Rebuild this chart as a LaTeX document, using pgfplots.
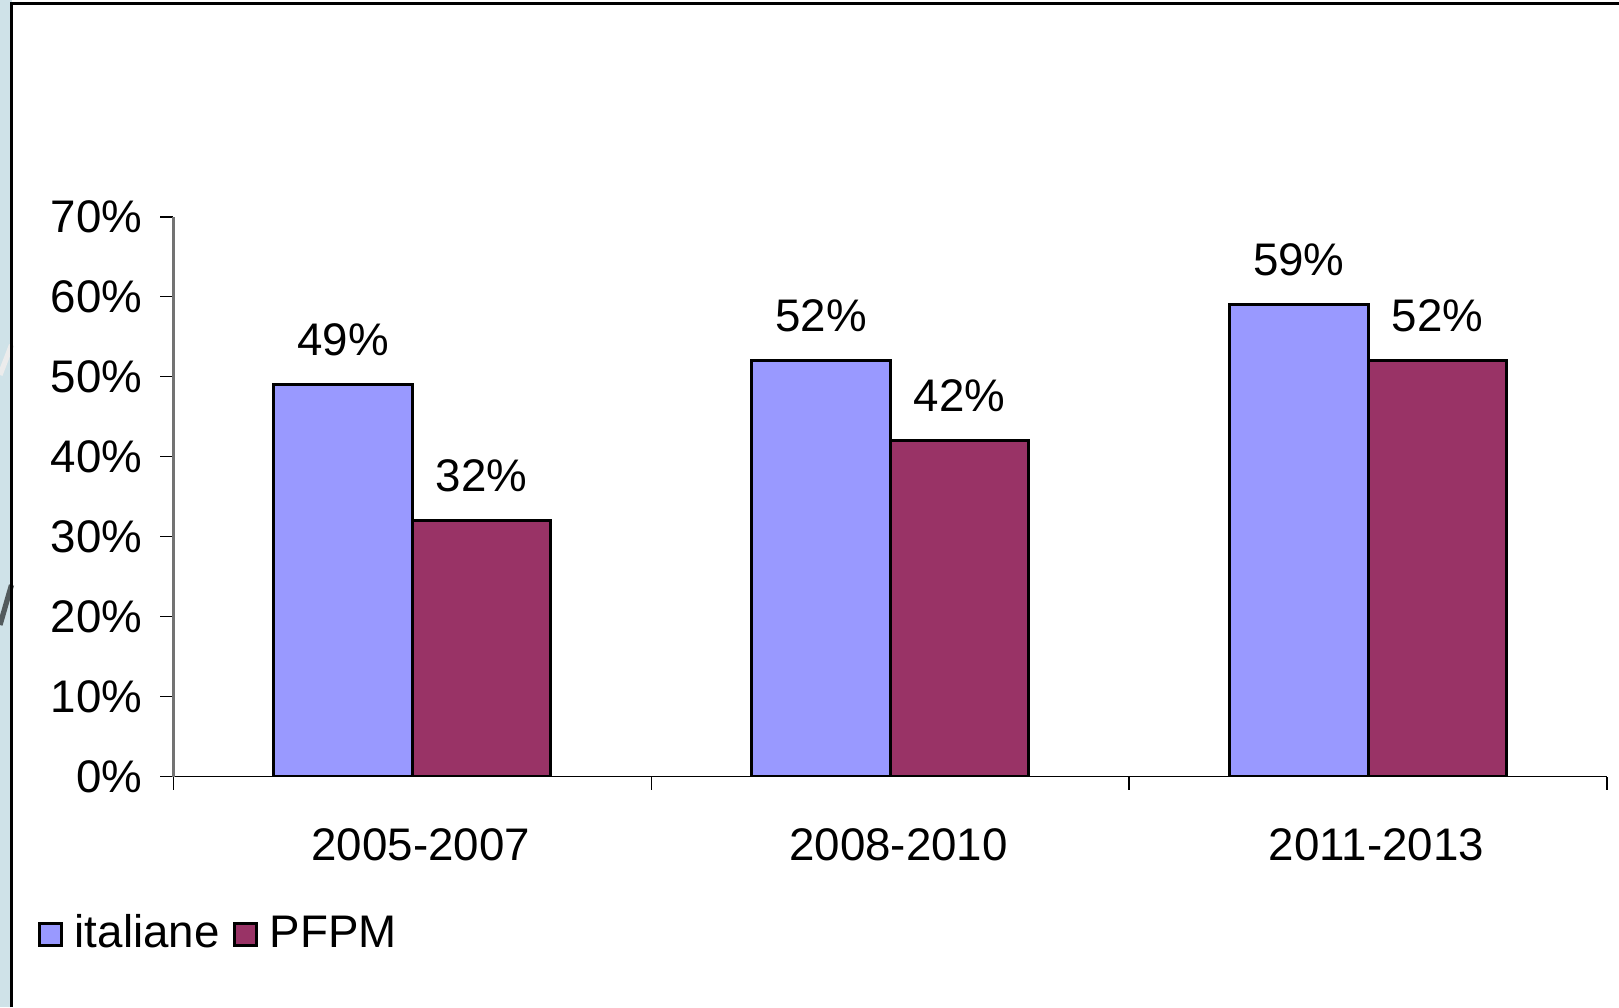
\documentclass[border=0pt]{standalone}
\usepackage{pgfplots}
\pgfplotsset{compat=1.18}
\usepackage{fontspec}
\setmainfont{Liberation Sans}
\definecolor{ital}{HTML}{9999FF}
\definecolor{pfpm}{HTML}{993366}
\definecolor{strip}{HTML}{CFE2E8}
\begin{document}
\begin{tikzpicture}
\useasboundingbox (0,0) rectangle (16.19,-10.07);
\fill[white] (0,0) rectangle (16.19,-10.07);
\fill[strip] (0,0) rectangle (0.115,-10.07);
\draw[white!85!gray, line width=1.5pt] (0,-3.75) -- (0.115,-3.45);
\draw[black!60!strip, line width=1.5pt] (0,-6.25) -- (0.115,-5.85);
\draw[black, line width=0.03cm] (0.115,-10.07) -- (0.115,-0.03) -- (16.19,-0.03);
\begin{axis}[
  at={(1.735cm,-7.765cm)}, anchor=south west,
  scale only axis, width=14.335cm, height=5.597cm,
  xmin=0, xmax=3, ymin=0, ymax=70,
  axis lines*=left,
  x axis line style={black, line width=0.4pt},
  y axis line style={black!55, line width=0.8pt},
  ybar, bar width=0.29,
  xtick={0.5,1.5,2.5},
  xticklabels={2005-2007,2008-2010,2011-2013},
  major x tick style={draw=none},
  minor xtick={0,1,2,3},
  ytick={0,10,...,70},
  yticklabel={\pgfmathprintnumber{\tick}\%},
  tick align=outside,
  major tick length=0.13cm, minor tick length=0.13cm,
  tick style={black, line width=0.4pt},
  font=\fontsize{13}{15}\selectfont,
  /pgf/number format/assume math mode=true,
  yticklabel style={anchor=east, inner sep=0pt, xshift=-0.175cm},
  xticklabel style={anchor=north, inner sep=0pt, yshift=-0.385cm, xshift=0.083cm},
  nodes near coords={\pgfmathprintnumber{\pgfplotspointmeta}\%},
  every node near coord/.append style={anchor=base, inner sep=0pt, yshift=0.29cm, black, font=\fontsize{13}{15}\selectfont},
  legend style={at={(-0.0952,-0.2814)}, anchor=west, draw=none, fill=none, inner sep=0pt,
    legend columns=-1, font=\fontsize{13}{15}\selectfont,
    /tikz/every even column/.append style={column sep=0.06cm}},
  legend image code/.code={\draw[#1, draw=black, line width=0.03cm] (0cm,-0.11cm) rectangle (0.22cm,0.11cm); \path (0.27cm,0cm);},
]
\addplot[fill=ital, draw=black, line width=0.03cm, bar shift=-0.145] coordinates {(0.5,49) (1.5,52) (2.5,59)};
\addplot[fill=pfpm, draw=black, line width=0.03cm, bar shift=0.145] coordinates {(0.5,32) (1.5,42) (2.5,52)};
\legend{italiane,PFPM}
\end{axis}
\end{tikzpicture}
\end{document}
